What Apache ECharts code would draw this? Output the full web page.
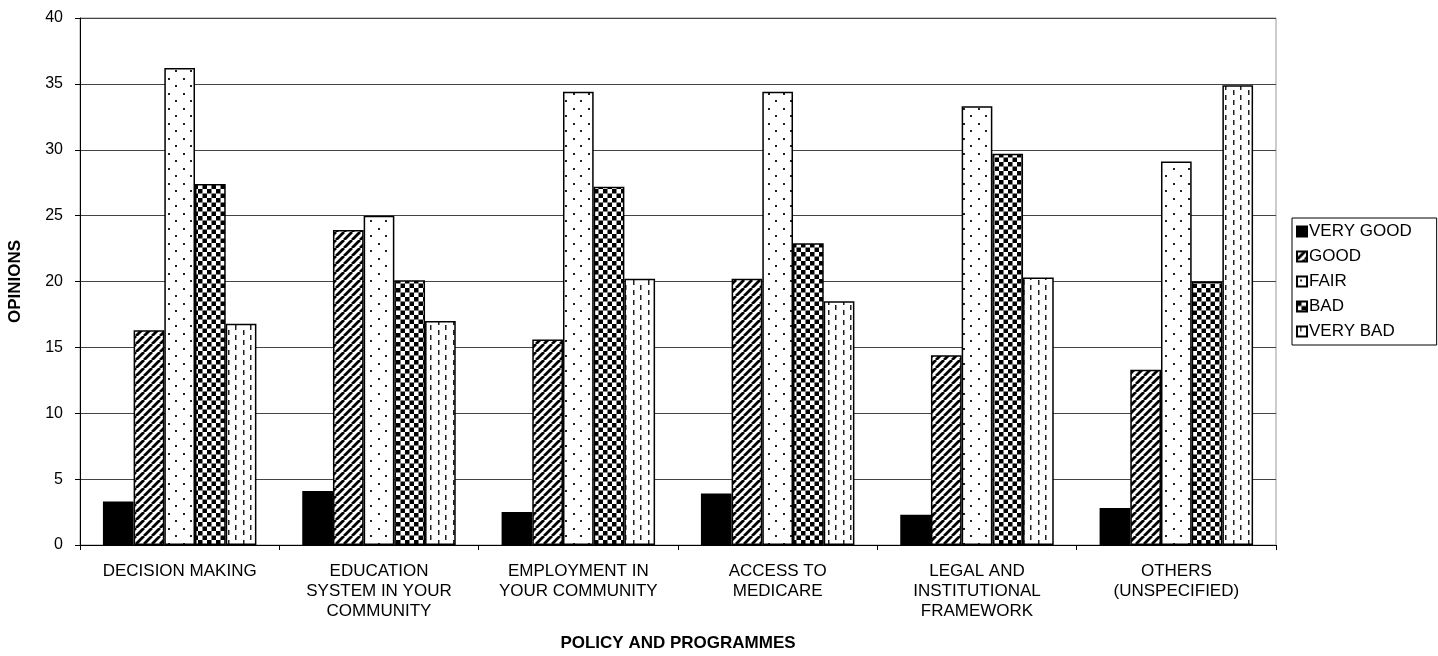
<!DOCTYPE html>
<html>
<head>
<meta charset="utf-8">
<style>
  html, body { margin: 0; padding: 0; background: #fff; }
  #chart { width: 1438px; height: 656px; }
</style>
<script src="https://cdn.jsdelivr.net/npm/echarts@6/dist/echarts.min.js"></script>
</head>
<body>
<div id="chart"></div>
<script>
// Opinions on policy and programmes, by rating
const categories = [
  'DECISION MAKING',
  'EDUCATION\nSYSTEM IN YOUR\nCOMMUNITY',
  'EMPLOYMENT IN\nYOUR COMMUNITY',
  'ACCESS TO\nMEDICARE',
  'LEGAL AND\nINSTITUTIONAL\nFRAMEWORK',
  'OTHERS\n(UNSPECIFIED)'
];
const seriesNames = ['VERY GOOD', 'GOOD', 'FAIR', 'BAD', 'VERY BAD'];
const veryGood = [3.3, 4.1, 2.5, 3.9, 2.3, 2.8];
const good     = [16.3, 23.9, 15.6, 20.2, 14.4, 13.3];
const fair     = [36.2, 25.0, 34.4, 34.4, 33.3, 29.1];
const bad      = [27.4, 20.1, 27.2, 22.9, 29.7, 20.0];
const veryBad  = [16.8, 17.0, 20.2, 18.5, 20.3, 34.9];
const yTicks   = [0, 5, 10, 15, 20, 25, 30, 35, 40];

// Monochrome fill patterns drawn onto small canvases
function tile(w, h, draw) {
  const c = document.createElement('canvas');
  c.width = w; c.height = h;
  const ctx = c.getContext('2d');
  ctx.fillStyle = '#fff';
  ctx.fillRect(0, 0, w, h);
  ctx.fillStyle = '#000';
  ctx.strokeStyle = '#000';
  draw(ctx);
  return { image: c, repeat: 'repeat' };
}
const fills = [
  '#000',
  tile(8, 8, ctx => {
    ctx.lineWidth = 2.8;
    for (let k = -1; k <= 1; k++) {
      ctx.beginPath();
      ctx.moveTo(k * 8, 8);
      ctx.lineTo(k * 8 + 8, 0);
      ctx.stroke();
    }
  }),
  tile(15, 15, ctx => {
    ctx.fillStyle = '#222';
    ctx.fillRect(3, 3, 2, 2);
    ctx.fillRect(10, 10, 2, 2);
  }),
  tile(9, 9, ctx => {
    ctx.fillRect(0, 0, 4.5, 4.5);
    ctx.fillRect(4.5, 4.5, 4.5, 4.5);
  }),
  tile(15, 10, ctx => {
    ctx.fillStyle = '#222';
    ctx.fillRect(3, 0, 1.5, 5);
    ctx.fillRect(10, 5, 1.5, 5);
  })
];
const values = [veryGood, good, fair, bad, veryBad];

const font = '"Liberation Sans", Arial, sans-serif';
const chart = echarts.init(document.getElementById('chart'), null, { renderer: 'canvas' });
chart.setOption({
  animation: false,
  backgroundColor: '#fff',
  textStyle: { fontFamily: font, color: '#000' },
  grid: {
    left: 80, right: 162, top: 18, bottom: 111,
    outerBoundsMode: 'none',
    containLabel: false,
    show: true, borderColor: '#999', borderWidth: 1
  },
  legend: {
    orient: 'vertical',
    left: 1292, top: 218,
    data: seriesNames,
    icon: 'rect',
    itemWidth: 10, itemHeight: 10,
    itemGap: 8,
    padding: [5, 25, 5, 4],
    borderColor: '#000', borderWidth: 1,
    textStyle: { fontFamily: font, fontSize: 17, color: '#000', padding: [0, 0, 0, -3] }
  },
  xAxis: {
    type: 'category',
    data: categories,
    name: 'POLICY AND PROGRAMMES',
    nameLocation: 'middle',
    nameGap: 90,
    nameTextStyle: { fontFamily: font, fontSize: 17, fontWeight: 'bold', color: '#000' },
    axisLine: { lineStyle: { color: '#000', width: 1 } },
    axisTick: { show: true, length: 5, lineStyle: { color: '#000' } },
    axisLabel: { fontFamily: font, fontSize: 17, color: '#000', margin: 16, lineHeight: 20, interval: 0 }
  },
  yAxis: {
    type: 'value',
    min: yTicks[0], max: yTicks[yTicks.length - 1], interval: 5,
    name: 'OPINIONS',
    nameLocation: 'middle',
    nameGap: 56,
    nameTextStyle: { fontFamily: font, fontSize: 17, fontWeight: 'bold', color: '#000' },
    axisLine: { show: true, lineStyle: { color: '#000', width: 1 } },
    axisTick: { show: true, length: 5, lineStyle: { color: '#000' } },
    axisLabel: { fontFamily: font, fontSize: 16, color: '#000', margin: 17 },
    splitLine: { show: true, lineStyle: { color: '#444', width: 1 } }
  },
  series: seriesNames.map((name, i) => ({
    name,
    type: 'bar',
    data: values[i],
    barGap: '0%',
    barCategoryGap: '23%',
    itemStyle: { color: fills[i], borderColor: '#000', borderWidth: 1.5 }
  }))
});
</script>
</body>
</html>
